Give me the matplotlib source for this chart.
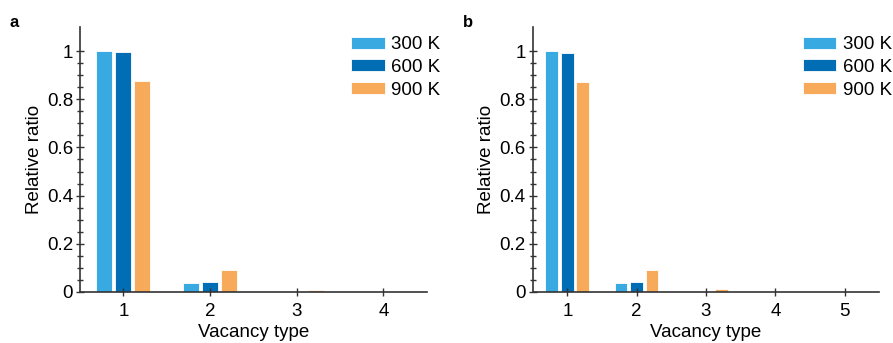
import matplotlib
matplotlib.use("Agg")
import matplotlib.pyplot as plt
from matplotlib.ticker import FixedLocator
import numpy as np

plt.rcParams['font.family'] = ['Liberation Sans', 'DejaVu Sans']

# data
temps = ['300 K', '600 K', '900 K']
colors = ['#38A9E1', '#006DB5', '#F7AA59']

types_a = [1, 2, 3, 4]
a_300 = [1.0, 0.039, 0.0, 0.0]
a_600 = [0.996, 0.042, 0.0, 0.0]
a_900 = [0.875, 0.093, 0.008, 0.0]

types_b = [1, 2, 3, 4, 5]
b_300 = [1.0, 0.039, 0.0, 0.0, 0.0]
b_600 = [0.994, 0.043, 0.0, 0.0, 0.0]
b_900 = [0.871, 0.093, 0.011, 0.0, 0.0]

FS = 13.5


def draw_panel(ax, types, series, leg_x):
    x = np.array(types, dtype=float)
    offsets = [-0.225, 0.0, 0.22]
    for vals, off, c, t in zip(series, offsets, colors, temps):
        ax.bar(x + off, vals, width=0.185, color=c, edgecolor='white',
               linewidth=0.6, label=t)
    ax.set_xlim(0.5, len(types) + 0.5)
    ax.set_ylim(0, 1.1)
    ax.set_xticks(types)
    ax.set_yticks([0, 0.2, 0.4, 0.6, 0.8, 1.0])
    ax.set_yticklabels(['0', '0.2', '0.4', '0.6', '0.8', '1'])
    ax.yaxis.set_minor_locator(FixedLocator(np.arange(0, 1.001, 0.05)))
    ax.tick_params(axis='y', which='major', direction='inout', length=6,
                   width=1, labelsize=FS, color='#333333', pad=2)
    ax.tick_params(axis='y', which='minor', direction='inout', length=4,
                   width=1, color='#333333')
    ax.tick_params(axis='x', which='major', direction='inout', length=6,
                   width=1, labelsize=FS, color='#333333', pad=5)
    for s in ['top', 'right']:
        ax.spines[s].set_visible(False)
    for s in ['left', 'bottom']:
        ax.spines[s].set_linewidth(1.2)
        ax.spines[s].set_color('#333333')
    ax.set_xlabel('Vacancy type', fontsize=FS, labelpad=3)
    ax.set_ylabel('Relative ratio', fontsize=FS, labelpad=3)
    ax.legend(loc='upper left', frameon=False, fontsize=FS,
              handlelength=1.8, handleheight=0.6, handletextpad=0.35,
              labelspacing=0.3, borderaxespad=0.0, borderpad=0.0,
              bbox_to_anchor=(leg_x, 0.965))


fig = plt.figure(figsize=(8.93, 3.43), dpi=100)
ax_a = fig.add_axes([0.0896, 0.149, 0.3884, 0.772])
ax_b = fig.add_axes([0.5965, 0.149, 0.3882, 0.772])

draw_panel(ax_a, types_a, [a_300, a_600, a_900], 0.781)
draw_panel(ax_b, types_b, [b_300, b_600, b_900], 0.779)

fig.text(0.011, 1 - 27 / 343, 'a', fontsize=12, fontweight='bold')
fig.text(0.518, 1 - 27 / 343, 'b', fontsize=12, fontweight='bold')

fig.savefig('out.png', dpi=100)
